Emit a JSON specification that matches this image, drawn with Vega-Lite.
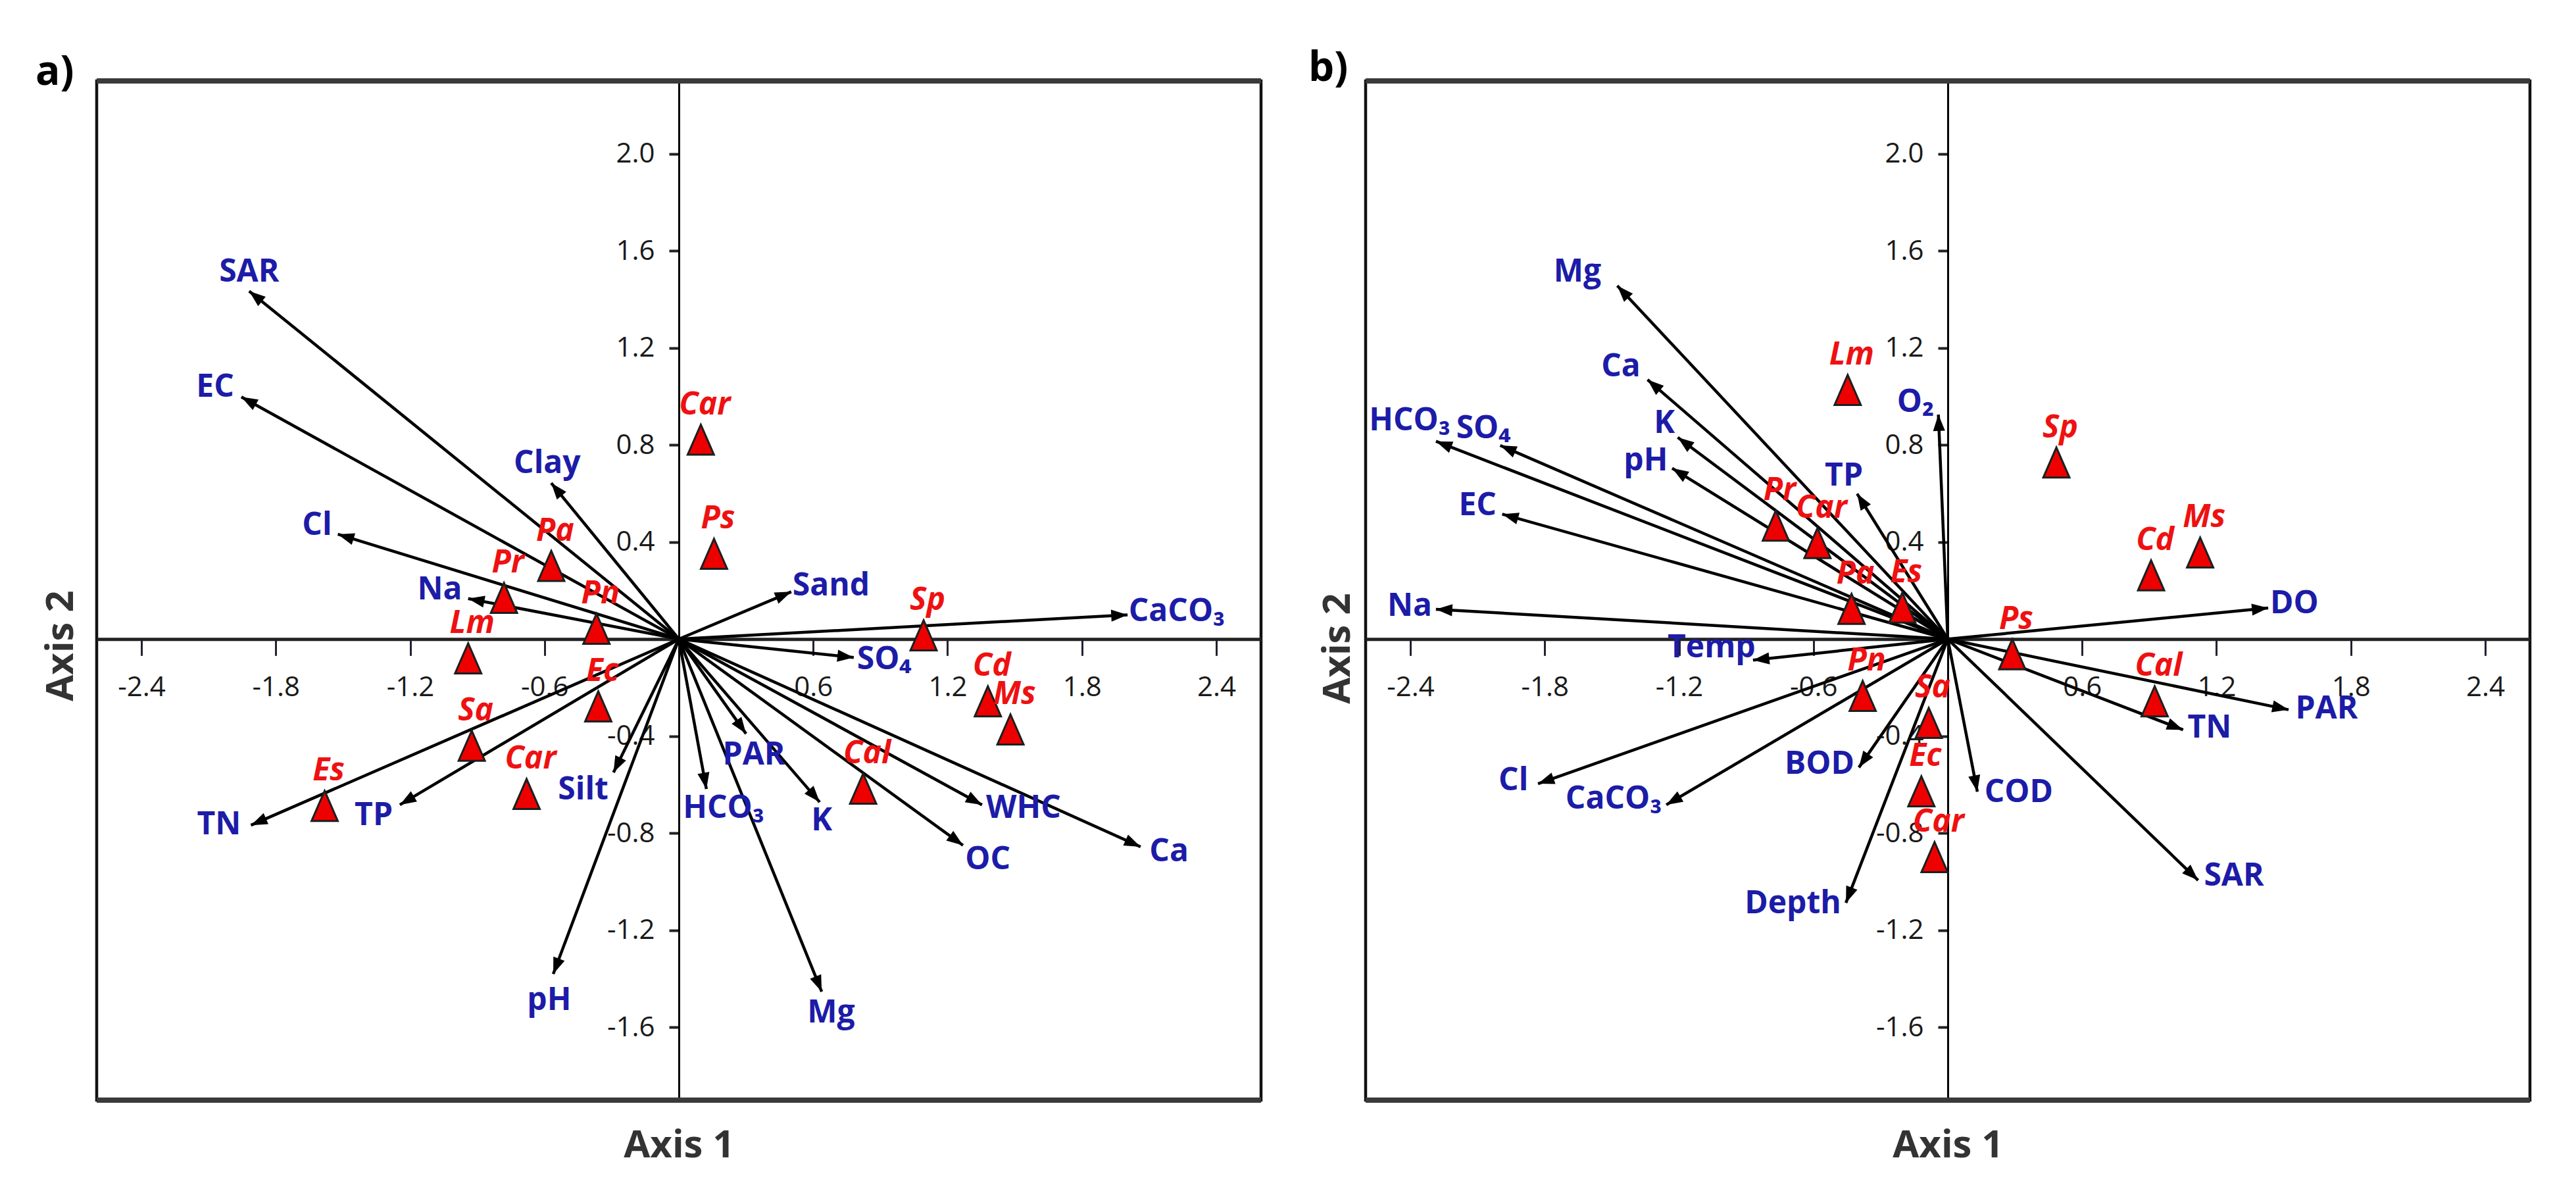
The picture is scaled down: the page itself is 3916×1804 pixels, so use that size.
{
  "$schema": "https://vega.github.io/schema/vega-lite/v6.json",
  "background": "white",
  "padding": {"left": 51, "top": 70, "right": 10, "bottom": 10},
  "config": {
    "view": {"stroke": "#111", "strokeWidth": 4.5},
    "font": "Liberation Sans Narrow, Open Sans, sans-serif"
  },
  "datasets": {
    "varsA": [
      {"name": "SAR", "x": -1.919, "y": 1.434, "lx": -1.919, "ly": 1.512},
      {"name": "EC", "x": -1.954, "y": 0.998, "lx": -2.071, "ly": 1.036},
      {"name": "Cl", "x": -1.523, "y": 0.432, "lx": -1.616, "ly": 0.466},
      {"name": "Clay", "x": -0.57, "y": 0.643, "lx": -0.588, "ly": 0.721},
      {"name": "Na", "x": -0.941, "y": 0.167, "lx": -1.068, "ly": 0.201},
      {"name": "Sand", "x": 0.502, "y": 0.195, "lx": 0.68, "ly": 0.217},
      {"name": "CaCO₃", "x": 2.004, "y": 0.1, "lx": 2.224, "ly": 0.111},
      {"name": "SO₄", "x": 0.781, "y": -0.076, "lx": 0.917, "ly": -0.087},
      {"name": "PAR", "x": 0.3, "y": -0.39, "lx": 0.335, "ly": -0.48},
      {"name": "HCO₃", "x": 0.123, "y": -0.618, "lx": 0.2, "ly": -0.7},
      {"name": "K", "x": 0.629, "y": -0.672, "lx": 0.638, "ly": -0.751},
      {"name": "Mg", "x": 0.638, "y": -1.453, "lx": 0.68, "ly": -1.542},
      {"name": "OC", "x": 1.269, "y": -0.85, "lx": 1.38, "ly": -0.911},
      {"name": "WHC", "x": 1.354, "y": -0.683, "lx": 1.539, "ly": -0.7},
      {"name": "Ca", "x": 2.062, "y": -0.856, "lx": 2.189, "ly": -0.878},
      {"name": "TN", "x": -1.911, "y": -0.767, "lx": -2.054, "ly": -0.767},
      {"name": "TP", "x": -1.246, "y": -0.683, "lx": -1.363, "ly": -0.728},
      {"name": "Silt", "x": -0.292, "y": -0.55, "lx": -0.427, "ly": -0.624},
      {"name": "pH", "x": -0.561, "y": -1.38, "lx": -0.579, "ly": -1.491}
    ],
    "sppA": [
      {"sp": "Pa", "x": -0.57, "y": 0.3},
      {"sp": "Pr", "x": -0.781, "y": 0.168},
      {"sp": "Pn", "x": -0.368, "y": 0.041},
      {"sp": "Lm", "x": -0.941, "y": -0.081},
      {"sp": "Car", "x": 0.098, "y": 0.82},
      {"sp": "Ps", "x": 0.157, "y": 0.35},
      {"sp": "Sp", "x": 1.093, "y": 0.014},
      {"sp": "Cd", "x": 1.38, "y": -0.258},
      {"sp": "Ms", "x": 1.481, "y": -0.374},
      {"sp": "Cal", "x": 0.823, "y": -0.618},
      {"sp": "Ec", "x": -0.36, "y": -0.279},
      {"sp": "Sa", "x": -0.925, "y": -0.441},
      {"sp": "Car", "x": -0.68, "y": -0.64},
      {"sp": "Es", "x": -1.582, "y": -0.689}
    ],
    "varsB": [
      {"name": "Mg", "x": -1.476, "y": 1.456, "lx": -1.654, "ly": 1.512},
      {"name": "Ca", "x": -1.341, "y": 1.069, "lx": -1.46, "ly": 1.12},
      {"name": "K", "x": -1.206, "y": 0.831, "lx": -1.266, "ly": 0.887},
      {"name": "pH", "x": -1.231, "y": 0.704, "lx": -1.349, "ly": 0.732},
      {"name": "HCO₃", "x": -2.286, "y": 0.815, "lx": -2.403, "ly": 0.898},
      {"name": "SO₄", "x": -1.999, "y": 0.798, "lx": -2.074, "ly": 0.865},
      {"name": "EC", "x": -1.99, "y": 0.515, "lx": -2.1, "ly": 0.549},
      {"name": "Na", "x": -2.286, "y": 0.123, "lx": -2.403, "ly": 0.134},
      {"name": "TP", "x": -0.405, "y": 0.599, "lx": -0.464, "ly": 0.671},
      {"name": "O₂", "x": -0.042, "y": 0.925, "lx": -0.144, "ly": 0.975},
      {"name": "DO", "x": 1.431, "y": 0.128, "lx": 1.548, "ly": 0.145},
      {"name": "TN", "x": 1.051, "y": -0.374, "lx": 1.169, "ly": -0.369},
      {"name": "PAR", "x": 1.522, "y": -0.291, "lx": 1.692, "ly": -0.29},
      {"name": "SAR", "x": 1.118, "y": -0.994, "lx": 1.278, "ly": -0.977},
      {"name": "COD", "x": 0.132, "y": -0.629, "lx": 0.317, "ly": -0.634},
      {"name": "Temp", "x": -0.87, "y": -0.087, "lx": -1.055, "ly": -0.037},
      {"name": "Cl", "x": -1.83, "y": -0.596, "lx": -1.94, "ly": -0.585},
      {"name": "CaCO₃", "x": -1.257, "y": -0.683, "lx": -1.492, "ly": -0.662},
      {"name": "BOD", "x": -0.397, "y": -0.529, "lx": -0.573, "ly": -0.518},
      {"name": "Depth", "x": -0.455, "y": -1.087, "lx": -0.692, "ly": -1.093}
    ],
    "sppB": [
      {"sp": "Lm", "x": -0.447, "y": 1.025},
      {"sp": "Pr", "x": -0.768, "y": 0.466},
      {"sp": "Car", "x": -0.582, "y": 0.394},
      {"sp": "Pa", "x": -0.43, "y": 0.123},
      {"sp": "Es", "x": -0.203, "y": 0.128},
      {"sp": "Sp", "x": 0.485, "y": 0.726},
      {"sp": "Cd", "x": 0.908, "y": 0.261},
      {"sp": "Ms", "x": 1.127, "y": 0.355},
      {"sp": "Ps", "x": 0.288, "y": -0.064},
      {"sp": "Cal", "x": 0.924, "y": -0.258},
      {"sp": "Pn", "x": -0.38, "y": -0.236},
      {"sp": "Sa", "x": -0.085, "y": -0.347},
      {"sp": "Ec", "x": -0.118, "y": -0.629},
      {"sp": "Car", "x": -0.059, "y": -0.9}
    ]
  },
  "bounds": "flush",
  "spacing": 159,
  "hconcat": [
    {
      "width": 1770,
      "height": 1549,
      "title": {"text": "a)", "anchor": "start", "frame": "group", "dx": -93, "dy": 72, "offset": 0, "baseline": "alphabetic", "fontSize": 62, "fontWeight": "bold", "font": "Liberation Sans Narrow, Open Sans, sans-serif", "color": "#000"},
      "layer": [
        {
          "data": {"name": "varsA"},
          "mark": {"type": "rule", "color": "#000", "strokeWidth": 4.5},
          "encoding": {
            "x": {"field": "x", "type": "quantitative",
              "scale": {"domain": [-2.6, 2.6], "nice": false, "zero": false},
              "axis": {"orient": "bottom", "offset": -700.7, "values": [-2.4, -1.8, -1.2, -0.6, 0.6, 1.2, 1.8, 2.4], "format": ".1f", "labelExpr": "replace(datum.label, '\u2212', '-')", "grid": false,
                "domainColor": "#222", "domainWidth": 5, "tickColor": "#223", "tickWidth": 3, "tickSize": 25, "labelPadding": 28,
                "labelFontSize": 42, "labelColor": "#1a1a1a", "labelFont": "Liberation Sans Narrow, Open Sans, sans-serif", "labelOverlap": false, "labelFlush": false,
                "title": "Axis 1", "titleFontSize": 58, "titleFontWeight": "bold", "titleColor": "#333", "titleFont": "Liberation Sans Narrow, Open Sans, sans-serif",
                "titleX": 885, "titleY": 770, "titleAlign": "center", "titleBaseline": "middle"}},
            "y": {"field": "y", "type": "quantitative",
              "scale": {"domain": [-1.9, 2.3], "nice": false, "zero": false},
              "axis": {"orient": "left", "offset": -885, "values": [-1.6, -1.2, -0.8, -0.4, 0.4, 0.8, 1.2, 1.6, 2.0], "format": ".1f", "labelExpr": "replace(datum.label, '\u2212', '-')", "grid": false,
                "domainColor": "#000", "domainWidth": 3, "tickColor": "#222", "tickWidth": 4, "tickSize": 15, "labelPadding": 22,
                "labelFontSize": 42, "labelColor": "#1a1a1a", "labelFont": "Liberation Sans Narrow, Open Sans, sans-serif", "labelOverlap": false, "labelFlush": false,
                "title": "Axis 2", "titleFontSize": 58, "titleFontWeight": "bold", "titleColor": "#333", "titleFont": "Liberation Sans Narrow, Open Sans, sans-serif",
                "titleX": -939, "titleY": 858, "titleAngle": -90, "titleAlign": "center", "titleBaseline": "middle"}},
            "x2": {"datum": 0},
            "y2": {"datum": 0}
          }
        },
        {
          "data": {"values": [{"edge": 2.3}, {"edge": -1.9}]},
          "mark": {"type": "rule", "color": "#3a3a3a", "strokeWidth": 8},
          "encoding": {"y": {"field": "edge", "type": "quantitative"}}
        },
        {
          "data": {"name": "varsA"},
          "transform": [{"calculate": "atan2(datum.x * 340.4, datum.y * 368.8) * 180 / PI", "as": "ang"}],
          "mark": {"type": "point", "shape": "M0,0L0.55,1.5L-0.55,1.5Z", "filled": true, "size": 1100, "color": "#000", "opacity": 1},
          "encoding": {
            "x": {"field": "x", "type": "quantitative"},
            "y": {"field": "y", "type": "quantitative"},
            "angle": {"field": "ang", "type": "quantitative", "scale": null}
          }
        },
        {
          "data": {"name": "varsA"},
          "mark": {"type": "text", "fontSize": 48, "fontWeight": "bold", "color": "#1c1ca8", "align": "center", "baseline": "middle"},
          "encoding": {
            "x": {"field": "lx", "type": "quantitative"},
            "y": {"field": "ly", "type": "quantitative"},
            "text": {"field": "name"}
          }
        },
        {
          "data": {"name": "sppA"},
          "mark": {"type": "point", "shape": "M0,-1L0.85,0.95L-0.85,0.95Z", "filled": true, "size": 2200, "fill": "#ee0000", "stroke": "#1a2020", "strokeWidth": 3, "opacity": 1},
          "encoding": {
            "x": {"field": "x", "type": "quantitative"},
            "y": {"field": "y", "type": "quantitative"}
          }
        },
        {
          "data": {"name": "sppA"},
          "mark": {"type": "text", "fontSize": 48, "fontWeight": "bold", "fontStyle": "italic", "color": "#ee1111", "align": "center", "baseline": "middle", "dy": -53, "dx": 6},
          "encoding": {
            "x": {"field": "x", "type": "quantitative"},
            "y": {"field": "y", "type": "quantitative"},
            "text": {"field": "sp"}
          }
        }
      ]
    },
    {
      "width": 1770,
      "height": 1549,
      "title": {"text": "b)", "anchor": "start", "frame": "group", "dx": -87, "dy": 66, "offset": 0, "baseline": "alphabetic", "fontSize": 62, "fontWeight": "bold", "font": "Liberation Sans Narrow, Open Sans, sans-serif", "color": "#000"},
      "layer": [
        {
          "data": {"name": "varsB"},
          "mark": {"type": "rule", "color": "#000", "strokeWidth": 4.5},
          "encoding": {
            "x": {"field": "x", "type": "quantitative",
              "scale": {"domain": [-2.6, 2.6], "nice": false, "zero": false},
              "axis": {"orient": "bottom", "offset": -700.7, "values": [-2.4, -1.8, -1.2, -0.6, 0.6, 1.2, 1.8, 2.4], "format": ".1f", "labelExpr": "replace(datum.label, '\u2212', '-')", "grid": false,
                "domainColor": "#222", "domainWidth": 5, "tickColor": "#223", "tickWidth": 3, "tickSize": 25, "labelPadding": 28,
                "labelFontSize": 42, "labelColor": "#1a1a1a", "labelFont": "Liberation Sans Narrow, Open Sans, sans-serif", "labelOverlap": false, "labelFlush": false,
                "title": "Axis 1", "titleFontSize": 58, "titleFontWeight": "bold", "titleColor": "#333", "titleFont": "Liberation Sans Narrow, Open Sans, sans-serif",
                "titleX": 885, "titleY": 770, "titleAlign": "center", "titleBaseline": "middle"}},
            "y": {"field": "y", "type": "quantitative",
              "scale": {"domain": [-1.9, 2.3], "nice": false, "zero": false},
              "axis": {"orient": "left", "offset": -885, "values": [-1.6, -1.2, -0.8, -0.4, 0.4, 0.8, 1.2, 1.6, 2.0], "format": ".1f", "labelExpr": "replace(datum.label, '\u2212', '-')", "grid": false,
                "domainColor": "#000", "domainWidth": 3, "tickColor": "#222", "tickWidth": 4, "tickSize": 15, "labelPadding": 22,
                "labelFontSize": 42, "labelColor": "#1a1a1a", "labelFont": "Liberation Sans Narrow, Open Sans, sans-serif", "labelOverlap": false, "labelFlush": false,
                "title": "Axis 2", "titleFontSize": 58, "titleFontWeight": "bold", "titleColor": "#333", "titleFont": "Liberation Sans Narrow, Open Sans, sans-serif",
                "titleX": -927, "titleY": 862, "titleAngle": -90, "titleAlign": "center", "titleBaseline": "middle"}},
            "x2": {"datum": 0},
            "y2": {"datum": 0}
          }
        },
        {
          "data": {"values": [{"edge": 2.3}, {"edge": -1.9}]},
          "mark": {"type": "rule", "color": "#3a3a3a", "strokeWidth": 8},
          "encoding": {"y": {"field": "edge", "type": "quantitative"}}
        },
        {
          "data": {"name": "varsB"},
          "transform": [{"calculate": "atan2(datum.x * 340.4, datum.y * 368.8) * 180 / PI", "as": "ang"}],
          "mark": {"type": "point", "shape": "M0,0L0.55,1.5L-0.55,1.5Z", "filled": true, "size": 1100, "color": "#000", "opacity": 1},
          "encoding": {
            "x": {"field": "x", "type": "quantitative"},
            "y": {"field": "y", "type": "quantitative"},
            "angle": {"field": "ang", "type": "quantitative", "scale": null}
          }
        },
        {
          "data": {"name": "varsB"},
          "mark": {"type": "text", "fontSize": 48, "fontWeight": "bold", "color": "#1c1ca8", "align": "center", "baseline": "middle"},
          "encoding": {
            "x": {"field": "lx", "type": "quantitative"},
            "y": {"field": "ly", "type": "quantitative"},
            "text": {"field": "name"}
          }
        },
        {
          "data": {"name": "sppB"},
          "mark": {"type": "point", "shape": "M0,-1L0.85,0.95L-0.85,0.95Z", "filled": true, "size": 2200, "fill": "#ee0000", "stroke": "#1a2020", "strokeWidth": 3, "opacity": 1},
          "encoding": {
            "x": {"field": "x", "type": "quantitative"},
            "y": {"field": "y", "type": "quantitative"}
          }
        },
        {
          "data": {"name": "sppB"},
          "mark": {"type": "text", "fontSize": 48, "fontWeight": "bold", "fontStyle": "italic", "color": "#ee1111", "align": "center", "baseline": "middle", "dy": -53, "dx": 6},
          "encoding": {
            "x": {"field": "x", "type": "quantitative"},
            "y": {"field": "y", "type": "quantitative"},
            "text": {"field": "sp"}
          }
        }
      ]
    }
  ]
}
